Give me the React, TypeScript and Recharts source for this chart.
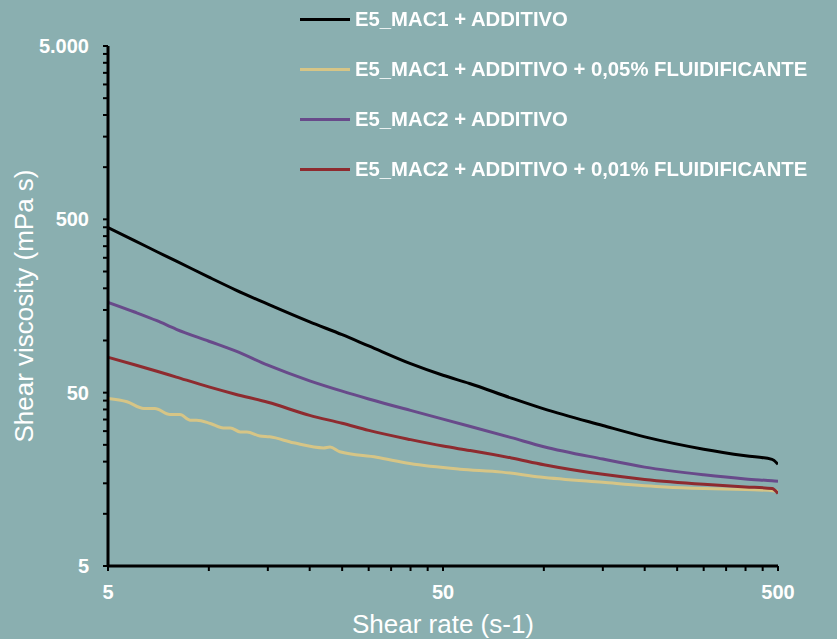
import { LineChart, Line, XAxis, YAxis, Legend, Label } from 'recharts'

const FONT = '"Liberation Sans", Arial, sans-serif'
const BG = '#8aafb0'

// shear rate grid (s-1), log axis 5..500
const rates = [5, 6, 7, 8, 10, 12, 15, 20, 25, 30, 40, 50, 60, 80, 100, 150, 200, 300, 400, 480, 500]
const mac1 = [448, 377, 325, 287, 232, 196, 162, 128, 108, 93, 73.5, 63, 56.5, 46.5, 40.3, 32.3, 27.8, 23.6, 21.6, 20.6, 19.3]
const mac2 = [166, 146, 130, 116, 99, 87, 72, 58.5, 51, 46, 39.5, 35.2, 32, 27.5, 24.4, 20.7, 18.6, 16.8, 15.9, 15.5, 15.4]
const mac2Fluid = [80, 72.5, 66.5, 61.5, 54, 49, 44, 37, 33.3, 30.3, 26.8, 24.6, 23.2, 21, 19.2, 16.9, 15.8, 14.8, 14.3, 14, 13.1]

// the 0,05% curve is a bit stepped at low rates, so it has its own points
const mac1FluidRates = [5, 5.7, 6.4, 6.9, 7.65, 8.2, 8.8, 9.2, 10.1, 11.05, 11.6, 12.4, 13, 14.2, 15.2, 17.9, 22, 23, 24.6, 31.7, 39.8, 56.2, 75, 97.5, 150, 230, 300, 400, 483, 500]
const mac1Fluid = [46.3, 44.3, 40.5, 40.5, 37.4, 37.4, 34.7, 34.7, 33.2, 31.3, 31.3, 29.7, 29.7, 28.1, 27.8, 25.7, 24, 24.3, 22.8, 21.2, 19.5, 18.1, 17.4, 16.3, 15.2, 14.3, 14, 13.8, 13.6, 13.5]

const xTicks = [5, 10, 15, 20, 25, 30, 35, 40, 45, 50, 100, 150, 200, 250, 300, 350, 400, 450, 500]
const yTicks = [
  5, 10, 15, 20, 25, 30, 35, 40, 45,
  50, 100, 150, 200, 250, 300, 350, 400, 450,
  500, 1000, 1500, 2000, 2500, 3000, 3500, 4000, 4500, 5000,
]
const majorTicks = [5, 50, 500, 5000]

const toPoints = (xs: number[], ys: number[]) => xs.map((x, i) => ({ rate: x, v: ys[i] }))

const fmtTick = (v: number) => {
  if (!majorTicks.includes(v)) return ''
  return v >= 1000 ? String(v).replace(/(\d)(\d{3})$/, '$1.$2') : String(v)
}

const series = [
  { name: 'E5_MAC1 + ADDITIVO', color: '#000000', data: toPoints(rates, mac1) },
  { name: 'E5_MAC1 + ADDITIVO + 0,05% FLUIDIFICANTE', color: '#d6c586', data: toPoints(mac1FluidRates, mac1Fluid) },
  { name: 'E5_MAC2 + ADDITIVO', color: '#684a8a', data: toPoints(rates, mac2) },
  { name: 'E5_MAC2 + ADDITIVO + 0,01% FLUIDIFICANTE', color: '#8e2b2f', data: toPoints(rates, mac2Fluid) },
]

function LegendBox({ payload }: any) {
  return (
    <div style={{ fontFamily: FONT }}>
      {(payload || []).map((p: any) => (
        <div key={p.value} style={{ height: 50, display: 'flex', alignItems: 'center' }}>
          <div style={{ width: 50, height: 3, background: p.color, marginRight: 5 }} />
          <span style={{ color: '#fff', fontWeight: 'bold', fontSize: 20.3, whiteSpace: 'nowrap' }}>{p.value}</span>
        </div>
      ))}
    </div>
  )
}

export default function App() {
  const tickStyle = { fill: '#fff', fontSize: 20, fontWeight: 'bold', fontFamily: FONT }
  return (
    <div style={{ position: 'fixed', left: 0, top: 0, width: 837, height: 639, background: BG }}>
      <LineChart width={837} height={639} margin={{ top: 46, right: 59, left: 0, bottom: 0 }}>
        <XAxis
          dataKey="rate"
          type="number"
          scale="log"
          domain={[5, 500]}
          ticks={xTicks}
          interval={0}
          allowDataOverflow
          height={73}
          tickSize={5}
          tickMargin={14}
          tickFormatter={fmtTick}
          tick={tickStyle}
          axisLine={{ stroke: '#000', strokeWidth: 3 }}
          tickLine={{ stroke: '#000', strokeWidth: 2 }}
        >
          <Label
            content={() => (
              <text x={443} y={633} textAnchor="middle" fill="#fff" fontSize={26} fontFamily={FONT}>
                Shear rate (s-1)
              </text>
            )}
          />
        </XAxis>
        <YAxis
          type="number"
          scale="log"
          domain={[5, 5000]}
          ticks={yTicks}
          interval={0}
          allowDataOverflow
          width={108}
          tickSize={5}
          tickMargin={14}
          tickFormatter={fmtTick}
          tick={tickStyle}
          axisLine={{ stroke: '#000', strokeWidth: 3 }}
          tickLine={{ stroke: '#000', strokeWidth: 2 }}
        >
          <Label
            content={() => (
              <text
                x={33}
                y={306}
                transform="rotate(-90, 33, 306)"
                textAnchor="middle"
                fill="#fff"
                fontSize={26}
                fontFamily={FONT}
              >
                Shear viscosity (mPa s)
              </text>
            )}
          />
        </YAxis>
        <Legend
          layout="vertical"
          align="center"
          verticalAlign="middle"
          content={<LegendBox />}
          wrapperStyle={{ position: 'absolute', left: 300, top: -6, width: 530, height: 200 }}
        />
        {series.map(s => (
          <Line
            key={s.name}
            data={s.data}
            dataKey="v"
            name={s.name}
            type="monotone"
            stroke={s.color}
            strokeWidth={3}
            dot={false}
            activeDot={false}
            isAnimationActive={false}
          />
        ))}
      </LineChart>
    </div>
  )
}
